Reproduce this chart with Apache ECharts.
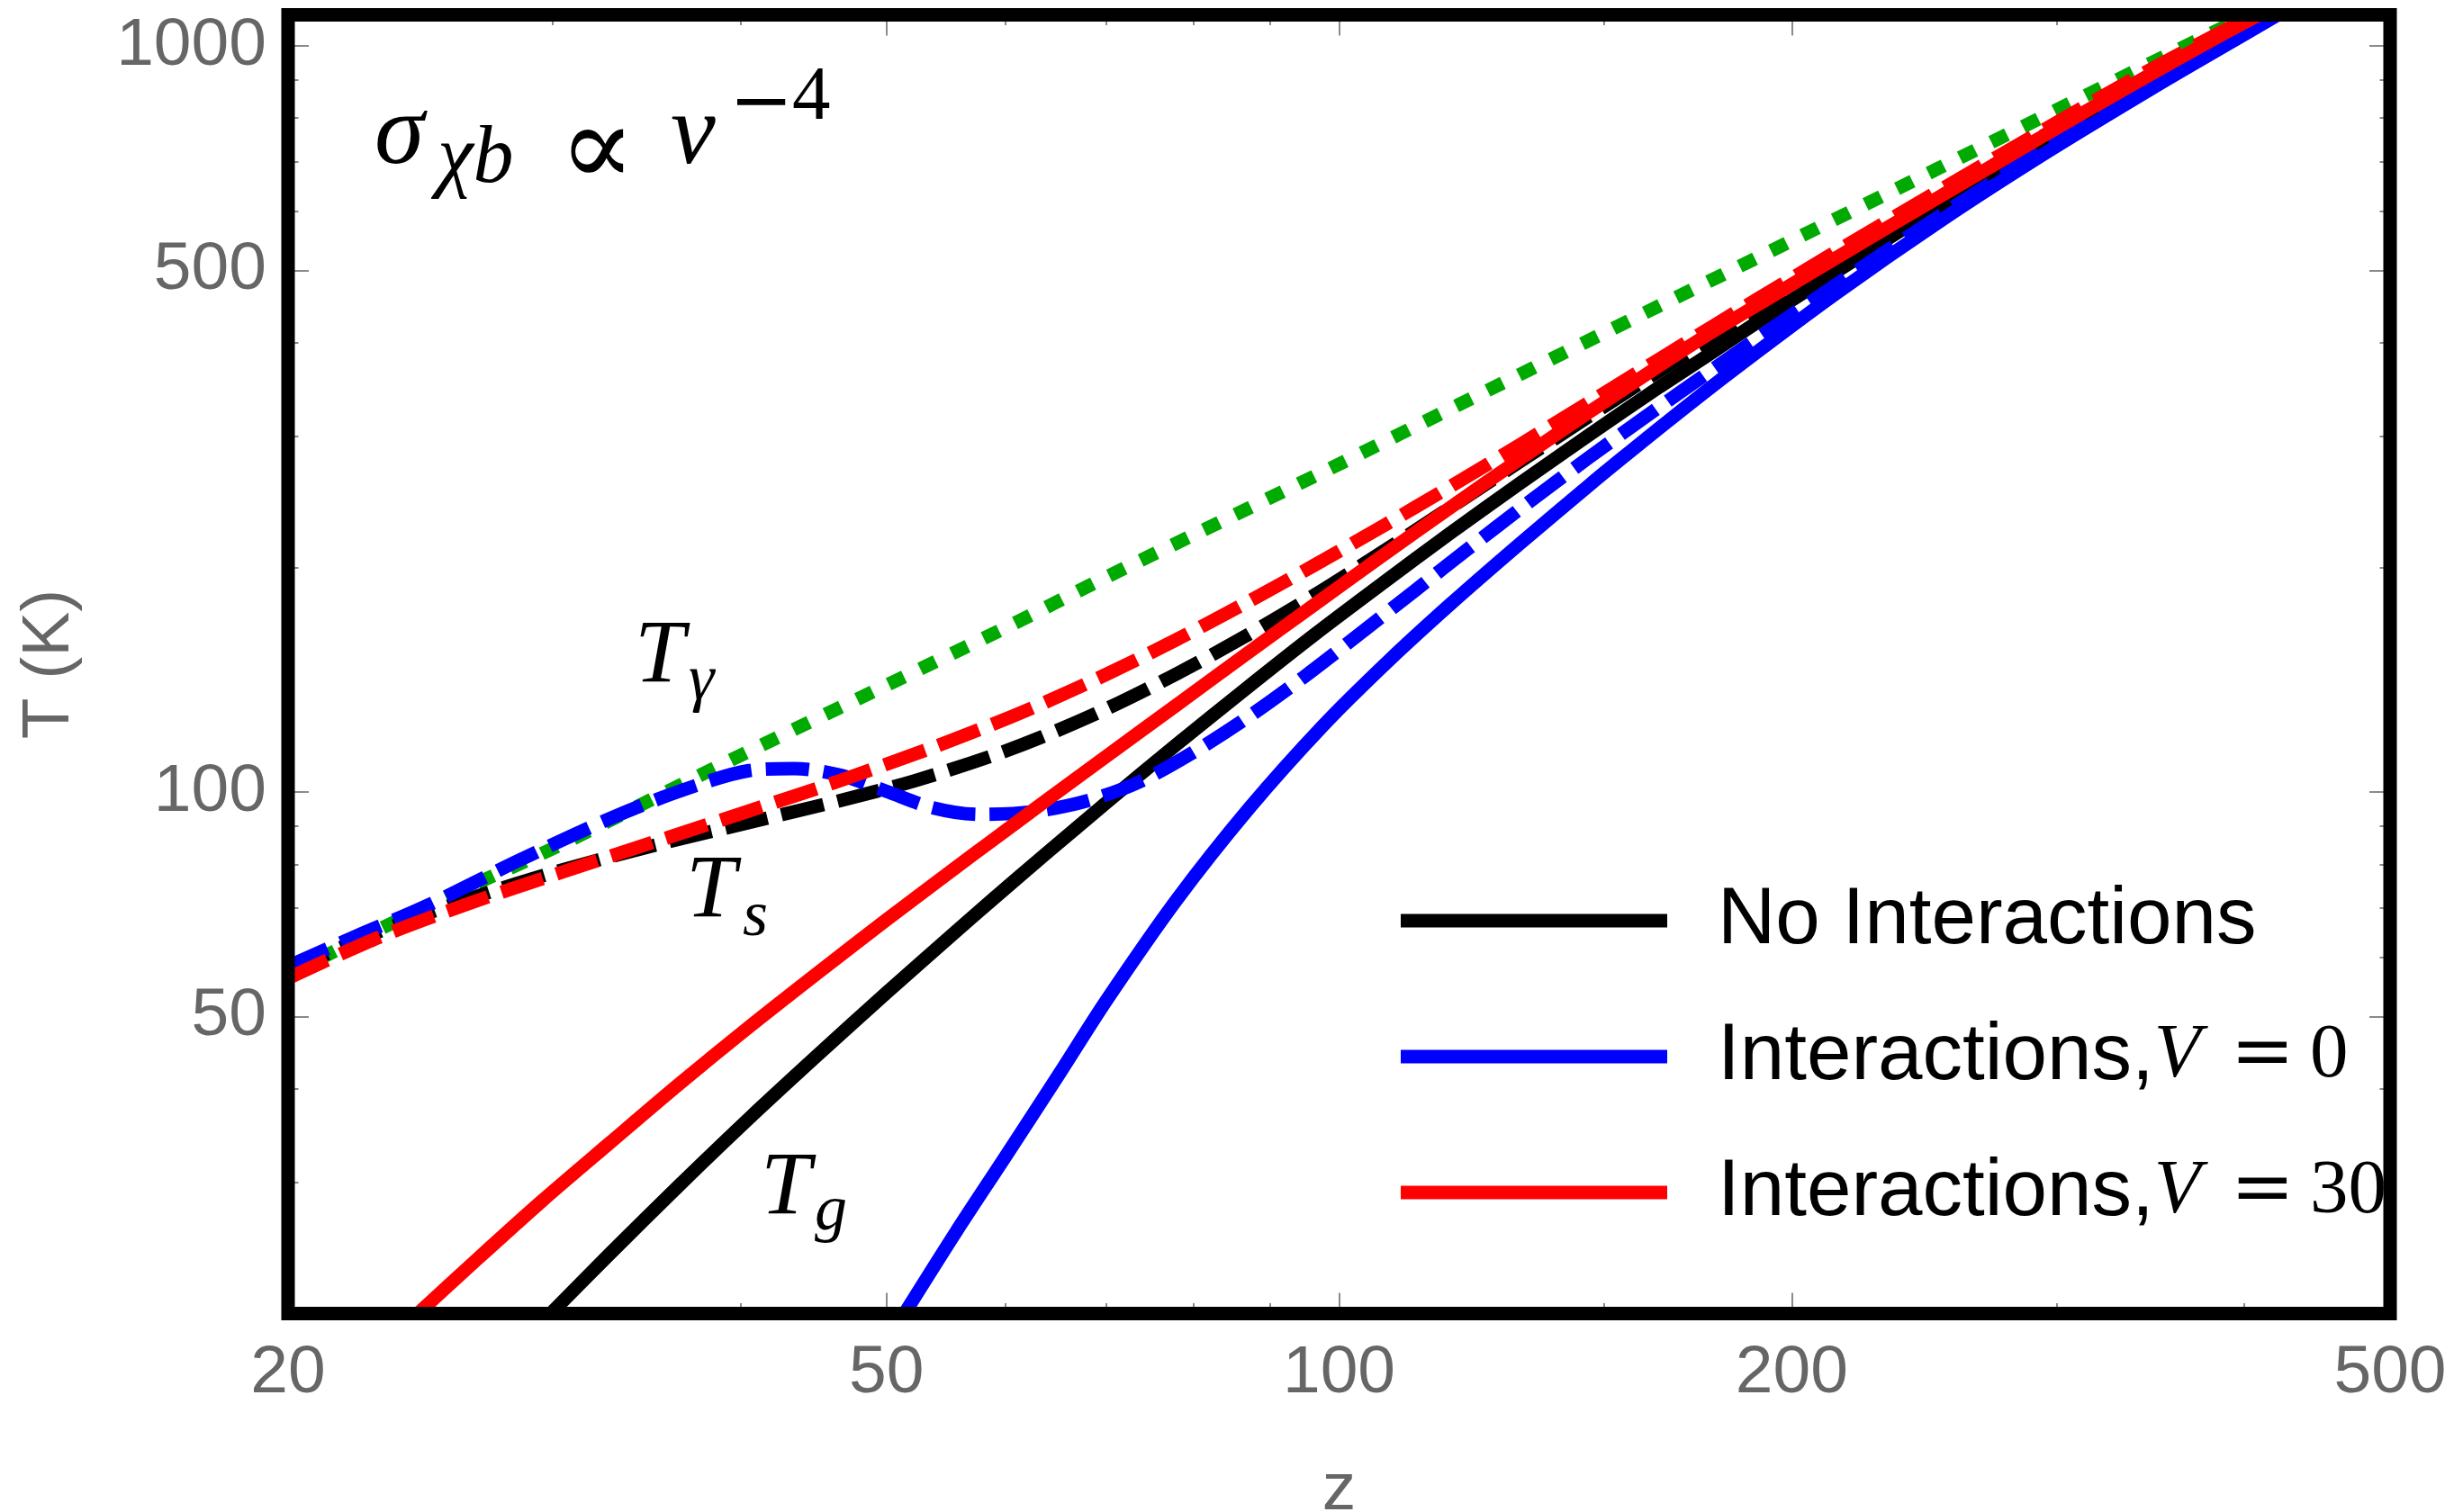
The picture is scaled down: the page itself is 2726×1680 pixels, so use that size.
<!DOCTYPE html>
<html>
<head>
<meta charset="utf-8">
<script src="https://cdn.jsdelivr.net/npm/echarts@6/dist/echarts.min.js"></script>
<style>
  html, body { margin: 0; padding: 0; background: #fff; }
  #chart { width: 2726px; height: 1680px; }
</style>
</head>
<body>
<div id="chart"></div>
<script>
// CMB temperature T_gamma (green dotted)
const zTgamma = [20, 25, 30, 35, 40, 50, 60, 70, 80, 100, 120, 150, 200, 250, 300, 350, 403];
const tTgamma = [57, 71, 84, 98, 112, 139, 166, 194, 221, 275, 330, 412, 548, 684, 820, 957, 1100];

// No interactions: gas temperature (solid) and spin temperature (dashed)
const zGasNoInt = [29.9, 32.7, 36.4, 40.5, 45, 50, 55.6, 58.7, 63.9, 70, 77.9, 86.5, 96.2, 106.9, 118.7, 132, 146.7, 163, 177, 190, 219, 252, 291, 335, 385, 412];
const tGasNoInt = [20, 24, 29.7, 36.5, 44.4, 53.8, 65, 71.5, 82.8, 96.7, 115.6, 137, 162.2, 190.4, 222.6, 259.5, 301, 348, 388, 426.8, 512.6, 613.6, 733.6, 869.8, 1020, 1100];
const zSpinNoInt = [20, 23, 26.5, 30.5, 35.1, 40.5, 46.6, 52.2, 58.7, 63.5, 70, 77.9, 86.5, 96.2, 106.9, 118.7, 132, 146.7, 163, 177, 190, 219, 252, 291, 335, 385, 410];
const tSpinNoInt = [57.6, 65, 72.1, 78.7, 84.9, 91, 97.4, 103.5, 111.7, 118.6, 129.2, 143.8, 161.4, 183.3, 209.8, 240.9, 277.4, 318.9, 365.8, 406.4, 444.7, 531.1, 630.4, 748.2, 879.7, 1027.8, 1100];

// Interactions, V = 0
const zGasV0 = [51.4, 55.6, 60.2, 65.2, 70, 77.9, 87.1, 97.5, 107.7, 118.7, 132, 146.7, 154.4, 165, 181.7, 213.9, 251.9, 296.5, 348.9, 385, 421];
const tGasV0 = [20, 25.7, 32.8, 42, 52.5, 71.5, 95, 122.5, 149.4, 178.8, 215.4, 257.8, 280.6, 312.6, 364, 465.2, 584.8, 722.8, 881.9, 990.4, 1100];
const zSpinV0 = [20, 22.2, 24.7, 28.5, 32.7, 36.4, 40.5, 43.4, 46.6, 50, 53.6, 57.6, 62.6, 68.1, 73.6, 80.1, 87.1, 94.8, 103.1, 112.3, 122.1, 132.9, 146.7, 159.7, 177.3, 190.4, 219.3, 252.5, 290.8, 334.8, 385.3, 418];
const tSpinV0 = [58.4, 64.1, 70.3, 81, 92, 100.2, 106.8, 107.5, 105.3, 100.2, 95.3, 93.3, 94.1, 97.4, 103.1, 113.2, 126.2, 142.7, 162.6, 186.1, 212.4, 242.2, 280.9, 317.7, 368.6, 407.3, 494.3, 596.4, 714.4, 849.6, 1004, 1100];

// Interactions, V = 30
const zGasV30 = [24.4, 26.5, 29.5, 32.7, 36.4, 40.5, 45, 50, 55.6, 58.7, 63.9, 70, 77.9, 86.5, 96.2, 106.9, 118.7, 132, 146.7, 163, 177, 190, 219, 252, 291, 335, 385, 409];
const tGasV30 = [20, 23.3, 28.3, 33.8, 40.6, 48.4, 57.2, 67.4, 79.2, 85.9, 97.5, 111.6, 130.6, 152.4, 178, 207.4, 240.9, 279.5, 323, 371.6, 413.3, 450, 534, 631, 748, 881, 1031, 1100];
const zSpinV30 = [20, 23, 26.5, 30.5, 35.1, 40.5, 46.6, 53.6, 58.7, 63.5, 70, 77.9, 86.5, 96.2, 106.9, 118.7, 132, 146.7, 163, 177, 190, 219, 252, 291, 335, 385, 407];
const tSpinV30 = [56.3, 63.9, 71.1, 78.2, 85.8, 94.3, 103.6, 114.6, 123, 131.4, 143.7, 159.9, 178.7, 201.1, 227, 256.9, 292.2, 332.8, 379.3, 420.2, 458.4, 544.5, 643.6, 761.4, 895.2, 1040, 1100];

// Axis ranges and tick marks
const zRange = [20, 500];
const tRange = [20, 1100];
const xMajorTicks = [20, 50, 100, 200, 500];
const xMinorTicks = [30, 40, 60, 70, 80, 90, 150, 300, 400];
const yMajorTicks = [50, 100, 500, 1000];
const yMinorTicks = [30, 40, 60, 70, 80, 90, 200, 300, 400, 600, 700, 800, 900];

const legendNames = ['No Interactions', 'Interactions, V = 0', 'Interactions, V = 30'];

const L = Math.log10;
const pairs = (zs, ts) => zs.map((z, i) => [z, ts[i]]);

const SANS = '"Liberation Sans", Arial, sans-serif';
const SERIF = '"Liberation Serif", "Times New Roman", serif';
const DEJAVU = '"DejaVu Serif", serif';
const TICK = { color: '#8a8a8a', width: 2 };
const LABEL = { fontSize: 75, color: '#666', fontFamily: SANS };

function tickAxis(position, lo, hi, ticks, len, extra) {
  return Object.assign({
    type: 'value', position: position, min: L(lo), max: L(hi),
    axisLine: { show: false },
    splitLine: { show: false },
    axisTick: { show: true, inside: true, length: len, customValues: ticks.map(L), lineStyle: TICK },
    axisLabel: { show: false }
  }, extra || {});
}

const xAxes = [
  { type: 'log', logBase: 10, min: zRange[0], max: zRange[1], show: false },
  tickAxis('bottom', zRange[0], zRange[1], xMajorTicks, 23, {
    axisLabel: Object.assign({ show: true, margin: 29, customValues: xMajorTicks.map(L),
      formatter: v => String(Math.round(Math.pow(10, v))) }, LABEL),
    name: 'z', nameLocation: 'middle', nameGap: 159,
    nameTextStyle: { fontSize: 75, color: '#666', fontFamily: SANS }
  }),
  tickAxis('bottom', zRange[0], zRange[1], xMinorTicks, 11.5),
  tickAxis('top', zRange[0], zRange[1], xMajorTicks, 23),
  tickAxis('top', zRange[0], zRange[1], xMinorTicks, 11.5)
];

const yAxes = [
  { type: 'log', logBase: 10, min: tRange[0], max: tRange[1], show: false },
  tickAxis('left', tRange[0], tRange[1], yMajorTicks, 23, {
    axisLabel: Object.assign({ show: true, margin: 24, customValues: yMajorTicks.map(L),
      formatter: v => String(Math.round(Math.pow(10, v))) }, LABEL),
    name: 'T (K)', nameLocation: 'middle', nameGap: 227,
    nameTextStyle: { fontSize: 75, color: '#666', fontFamily: SANS }
  }),
  tickAxis('left', tRange[0], tRange[1], yMinorTicks, 11.5),
  tickAxis('right', tRange[0], tRange[1], yMajorTicks, 23),
  tickAxis('right', tRange[0], tRange[1], yMinorTicks, 11.5)
];

const DASH = [48, 16];
const DOT = [19, 20];
function curve(name, zs, ts, color, dash) {
  return {
    type: 'line', name: name, data: pairs(zs, ts),
    xAxisIndex: 0, yAxisIndex: 0,
    showSymbol: false, symbol: 'none',
    smooth: 0.3,
    color: color,
    itemStyle: { color: color },
    lineStyle: { color: color, width: 15, type: dash || 'solid', cap: 'butt', join: 'round' },
    emphasis: { disabled: true },
    silent: true,
    clip: true
  };
}

const series = [
  curve('T_gamma', zTgamma, tTgamma, '#00aa00', DOT),
  curve(legendNames[0], zGasNoInt, tGasNoInt, '#000000'),
  curve('Ts no interactions', zSpinNoInt, tSpinNoInt, '#000000', DASH),
  curve(legendNames[1], zGasV0, tGasV0, '#0000ff'),
  curve('Ts V = 0', zSpinV0, tSpinV0, '#0000ff', DASH),
  curve(legendNames[2], zGasV30, tGasV30, '#ff0000'),
  curve('Ts V = 30', zSpinV30, tSpinV30, '#ff0000', DASH)
];

// Math annotations inside the frame
function mtext(str, x, y, size, italic, family) {
  return {
    type: 'text', x: x, y: y, z: 60, silent: true,
    style: {
      text: str,
      font: (italic ? 'italic ' : '') + size + 'px ' + (family || SERIF),
      fill: '#000', align: 'left', verticalAlign: 'middle'
    }
  };
}

const annotations = [
  mtext('σ', 416, 152, 112, true),
  mtext('χb', 486, 178, 90, true),
  mtext('∝', 621, 173, 125, false, DEJAVU),
  mtext('v', 745, 152, 112, true),
  mtext('−', 810, 118, 85, false, DEJAVU),
  mtext('4', 880, 110, 85, false),
  mtext('T', 705, 731, 100, true),
  mtext('γ', 765, 758, 72, true),
  mtext('T', 762, 992, 100, true),
  mtext('s', 825, 1020, 72, true),
  mtext('T', 845, 1322, 100, true),
  mtext('g', 905, 1347, 72, true)
];

const legendRich = {
  g: { width: 51 },
  s: { fontSize: 89, fontFamily: SANS, color: '#000', lineHeight: 100 },
  v: { fontSize: 85, fontFamily: SERIF, fontStyle: 'italic', color: '#000', lineHeight: 100 },
  e: { fontSize: 85, fontFamily: DEJAVU, color: '#000', lineHeight: 100, padding: [0, 0, 0, 33] },
  n: { fontSize: 85, fontFamily: SERIF, color: '#000', lineHeight: 100, padding: [0, 0, 0, 17] }
};
const legendText = {};
legendText[legendNames[0]] = '{g|}{s|No Interactions}';
legendText[legendNames[1]] = '{g|}{s|Interactions,}{v|V}{e|=}{n|0}';
legendText[legendNames[2]] = '{g|}{s|Interactions,}{v|V}{e|=}{n|30}';

const chart = echarts.init(document.getElementById('chart'), null, { renderer: 'canvas' });
chart.setOption({
  backgroundColor: '#ffffff',
  animation: false,
  grid: {
    left: 320, right: 71, top: 16.5, bottom: 220.5,
    containLabel: false, outerBoundsMode: 'none',
    show: true, z: 10,
    backgroundColor: 'transparent',
    borderColor: '#000', borderWidth: 15
  },
  xAxis: xAxes,
  yAxis: yAxes,
  legend: {
    data: legendNames,
    orient: 'vertical',
    left: 1556, top: 973,
    padding: 0,
    itemWidth: 296, itemHeight: 15, itemGap: 51,
    icon: 'rect',
    selectedMode: false,
    formatter: name => legendText[name],
    textStyle: { rich: legendRich, lineHeight: 100, fontSize: 89, fontFamily: SANS, color: '#000' }
  },
  graphic: annotations,
  series: series
});
</script>
</body>
</html>
